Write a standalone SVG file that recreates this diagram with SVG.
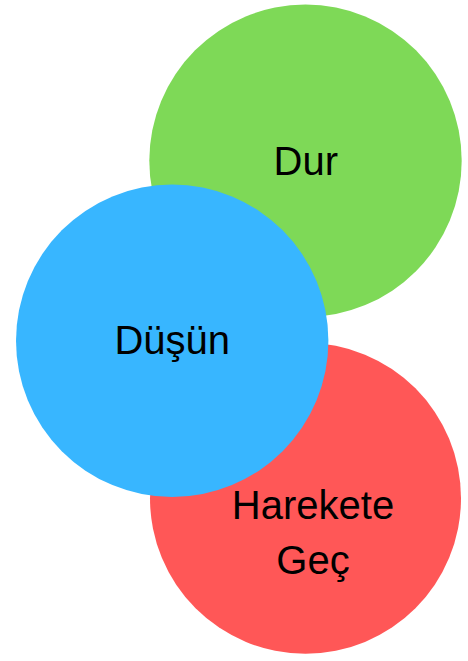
<svg xmlns="http://www.w3.org/2000/svg" width="468" height="661" viewBox="0 0 468 661">
<style>
text{font-family:"Liberation Sans",Arial,sans-serif;font-size:40px;fill:#000;text-anchor:middle}
</style>
<rect width="468" height="661" fill="#fff"/>
<g id="connectors"></g>
<g id="dur">
<circle cx="305.5" cy="160.8" r="156.2" fill="#7ED957"/>
<text x="305.8" y="175">Dur</text>
</g>
<g id="harekete-gec">
<circle cx="305.5" cy="498.3" r="155.5" fill="#FF5757"/>
<text x="313" y="519.3">Harekete</text>
<text x="313" y="574.3">Geç</text>
</g>
<g id="dusun">
<circle cx="172.2" cy="340.8" r="156.2" fill="#38B6FF"/>
<text x="172.3" y="354">Düşün</text>
</g>
</svg>
